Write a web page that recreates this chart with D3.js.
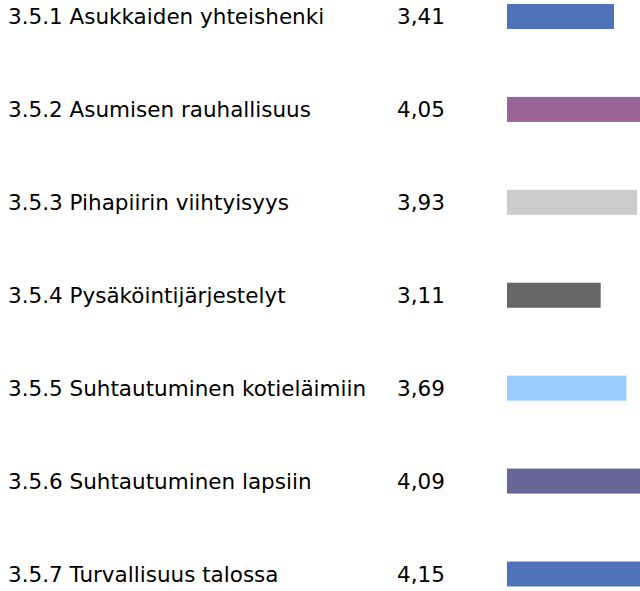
<!DOCTYPE html>
<html>
<head>
<meta charset="utf-8">
<title>Asuminen</title>
<script src="https://cdnjs.cloudflare.com/ajax/libs/d3/7.8.5/d3.min.js"></script>
<style>
  body { margin: 0; background: #fff; }
  text { font-family: "DejaVu Sans", Verdana, sans-serif; font-size: 21.5px; fill: #000; }
</style>
</head>
<body>
<script>
    var labels = [
        "3.5.1 Asukkaiden yhteishenki",
        "3.5.2 Asumisen rauhallisuus",
        "3.5.3 Pihapiirin viihtyisyys",
        "3.5.4 Pysäköintijärjestelyt",
        "3.5.5 Suhtautuminen kotieläimiin",
        "3.5.6 Suhtautuminen lapsiin",
        "3.5.7 Turvallisuus talossa"
    ];
    var values = [3.41, 4.05, 3.93, 3.11, 3.69, 4.09, 4.15];
    var colors = ["#4f72b8", "#9a6699", "#cccccc", "#666666", "#99ccff", "#666699", "#4f72b8"];

    var width = 640,
        height = 591,
        barH = 25;

    var svg = d3.select("body").append("svg")
        .attr("width", width)
        .attr("height", height);

    // scale 1..5, bars start at the low end
    var x = d3.scaleLinear()
        .domain([1, 5])
        .range([507, 684.6]);

    var y = d3.scalePoint()
        .domain(labels)
        .range([16.5, 574]);

    var fmt = function(v){ return d3.format(".2f")(v).replace(".", ","); };

    var rows = svg.selectAll("g.row")
        .data(labels)
        .enter().append("g")
        .attr("class", "row")
        .attr("transform", function(d){ return "translate(0," + y(d) + ")"; });

    rows.append("text")
        .attr("x", 8)
        .attr("dy", "0.35em")
        .text(function(d){ return d; });

    rows.append("text")
        .attr("x", 397)
        .attr("dy", "0.35em")
        .text(function(d, i){ return fmt(values[i]); });

    rows.append("rect")
        .attr("x", x(1))
        .attr("y", -barH / 2)
        .attr("height", barH)
        .attr("width", function(d, i){ return x(values[i]) - x(1); })
        .attr("fill", function(d, i){ return colors[i]; });
</script>
</body>
</html>
